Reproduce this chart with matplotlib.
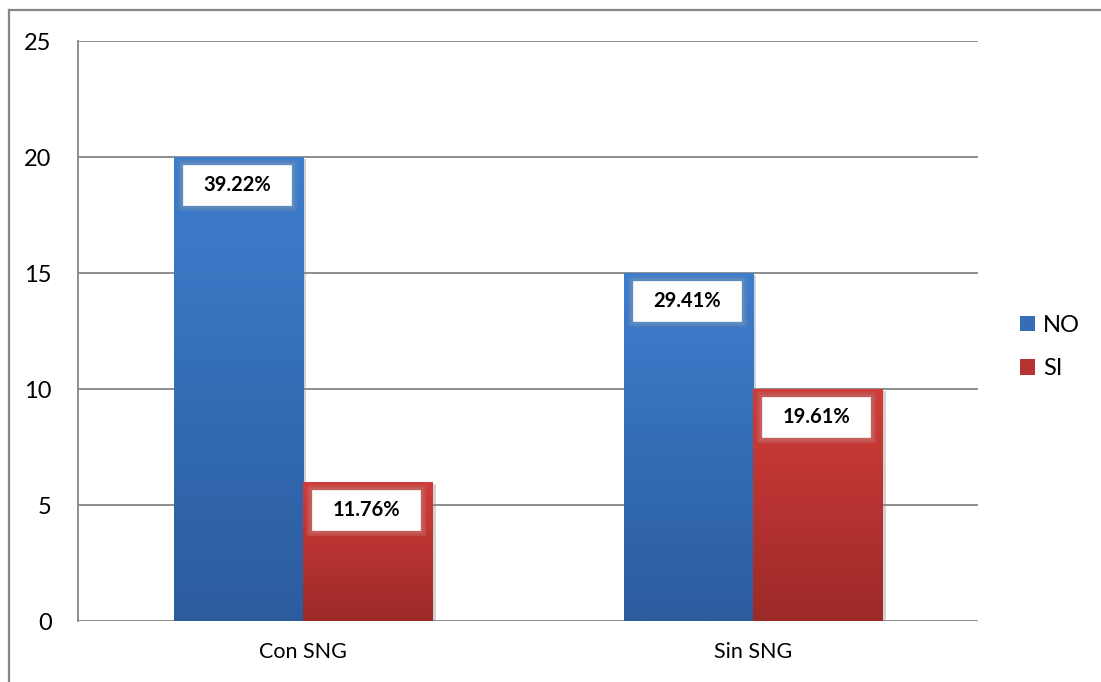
import numpy as np
import matplotlib
matplotlib.use("Agg")
import matplotlib.pyplot as plt
from matplotlib.patches import Rectangle, Patch
from matplotlib.transforms import ScaledTranslation
from matplotlib.lines import Line2D
import matplotlib.patheffects as pe

# ── data ────────────────────────────────────────────────────────────────
categories = ["Con SNG", "Sin SNG"]
series_names = ["NO", "SI"]
no_counts = [20, 15]
si_counts = [6, 10]
no_labels = ["39.22%", "29.41%"]
si_labels = ["11.76%", "19.61%"]
y_ticks = [0, 5, 10, 15, 20, 25]

plt.rcParams["font.family"] = ["Lato", "DejaVu Sans"]

W, H = 1101, 682
fig = plt.figure(figsize=(W / 100, H / 100), dpi=100)
ax = fig.add_axes([78 / W, 61 / H, 900 / W, 580 / H])

grid_gray = "#868686"
blue_top, blue_bot = np.array([0x3E, 0x7E, 0xCE]) / 255, np.array([0x2B, 0x5C, 0x9E]) / 255
red_top, red_bot = np.array([0xD2, 0x3C, 0x3A]) / 255, np.array([0x9C, 0x2A, 0x28]) / 255
box_edges = [(0.31, 0.51, 0.74, 0.92), (0.76, 0.31, 0.30, 0.92)]

x = np.arange(len(categories))
bar_w = 0.287

ax.set_xlim(-0.5, 1.5)
ax.set_ylim(0, 25)

for yv in y_ticks:
    ax.axhline(yv, color=grid_gray, lw=1.3, zorder=0)


def gradient_bars(xs, heights, top, bot):
    bars = ax.bar(xs, heights, width=bar_w, align="edge", color=(top + bot) / 2,
                  edgecolor="none", zorder=2)
    ramp = np.linspace(0, 1, 256)[:, None]
    img = bot[None, None, :] * (1 - ramp[..., None]) + top[None, None, :] * ramp[..., None]
    img = np.repeat(img, 2, axis=1)
    for b in bars:
        b.set_path_effects([pe.SimplePatchShadow(offset=(2.5, -1.5), shadow_rgbFace="#808080",
                                                 alpha=0.35), pe.Normal()])
        bx, by = b.get_x(), b.get_y()
        im = ax.imshow(img, extent=(bx, bx + b.get_width(), by, by + b.get_height()),
                       origin="lower", aspect="auto", zorder=2.5, interpolation="bilinear")
        im.set_clip_path(b)
    return bars


no_bars = gradient_bars(x - bar_w, no_counts, blue_top, blue_bot)
si_bars = gradient_bars(x, si_counts, red_top, red_bot)
ax.set_xlim(-0.5, 1.5)
ax.set_ylim(0, 25)

# value boxes: white fill, thick edge in the series colour
px = 1 / 100  # inches per pixel
box_w, box_h = 114 * px, 46 * px
for bars, labels, edge in [(no_bars, no_labels, box_edges[0]), (si_bars, si_labels, box_edges[1])]:
    for b, lab in zip(bars, labels):
        xc = b.get_x() + b.get_width() / 2
        yc = b.get_height()
        off = ScaledTranslation(xc, yc, ax.transData)
        tr = fig.dpi_scale_trans + ScaledTranslation(-1.5 * px, -28 * px, fig.dpi_scale_trans) + off
        ax.add_patch(Rectangle((-box_w / 2, -box_h / 2), box_w, box_h, transform=tr,
                               facecolor="white", edgecolor=edge, lw=3.8,
                               joinstyle="round", zorder=4, clip_on=False))
        ax.text(0, 0, lab, transform=tr, ha="center", va="center", fontsize=14.5,
                fontweight="bold", color="black", zorder=5)

ax.set_yticks(y_ticks)
ax.set_xticks(x)
ax.set_xticklabels(categories)
ax.tick_params(axis="y", length=0, pad=19, labelsize=17)
ax.tick_params(axis="x", length=0, pad=15, labelsize=15.5)
for side in ["top", "right", "bottom"]:
    ax.spines[side].set_visible(False)
ax.spines["left"].set_color(grid_gray)
ax.spines["left"].set_linewidth(1.3)

handles = [Patch(facecolor=(blue_top + blue_bot) / 2, edgecolor="none"),
           Patch(facecolor=(red_top + red_bot) / 2, edgecolor="none")]
fig.legend(handles, series_names, loc="center left", bbox_to_anchor=(1020 / W, 1 - 347 / H),
           frameon=False, fontsize=17, handlelength=0.62, handleheight=0.62,
           handletextpad=0.35, labelspacing=0.95, borderpad=0, borderaxespad=0)

# outer chart frame (left and top edges)
fig.add_artist(Line2D([8.5 / W, 8.5 / W], [0, 1 - 10 / H], color=grid_gray, lw=1.6,
                      transform=fig.transFigure))
fig.add_artist(Line2D([8.5 / W, 1], [1 - 10 / H, 1 - 10 / H], color=grid_gray, lw=1.6,
                      transform=fig.transFigure))

fig.savefig("out.png", dpi=100)
